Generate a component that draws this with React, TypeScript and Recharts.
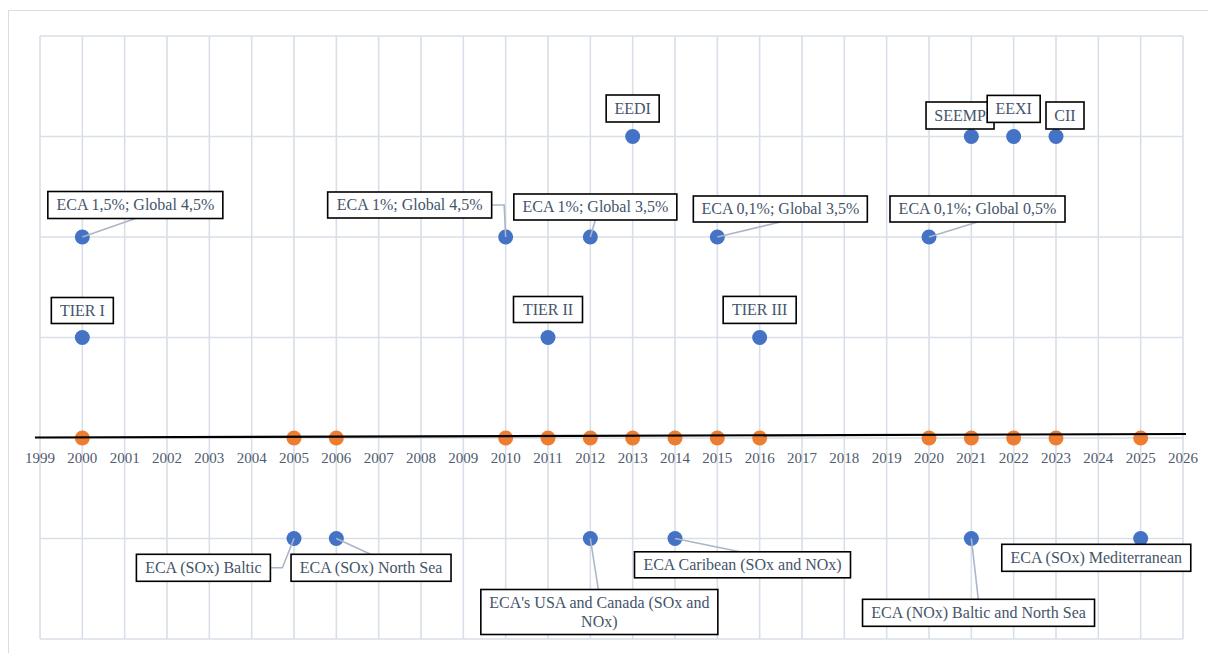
import { CartesianGrid, ReferenceLine, Scatter, ScatterChart, XAxis, YAxis } from "recharts";

const yearTicks = [
  1999, 2000, 2001, 2002, 2003, 2004, 2005, 2006, 2007, 2008, 2009, 2010, 2011, 2012,
  2013, 2014, 2015, 2016, 2017, 2018, 2019, 2020, 2021, 2022, 2023, 2024, 2025, 2026,
];
const levelTicks = [-2, -1, 0, 1, 2, 3, 4];

// orange dots sitting on the timeline
const timelineYears = [2000, 2005, 2006, 2010, 2011, 2012, 2013, 2014, 2015, 2016, 2020, 2021, 2022, 2023, 2025];

// blue milestones, above and below the timeline
const milestoneLabels = [
  "TIER I",
  "ECA 1,5%; Global 4,5%",
  "ECA (SOx) Baltic",
  "ECA (SOx) North Sea",
  "ECA 1%; Global 4,5%",
  "TIER II",
  "ECA 1%; Global 3,5%",
  "ECA's USA and Canada (SOx and NOx)",
  "EEDI",
  "ECA Caribean (SOx and NOx)",
  "ECA 0,1%; Global 3,5%",
  "TIER III",
  "ECA 0,1%; Global 0,5%",
  "SEEMP",
  "ECA (NOx) Baltic and North Sea",
  "EEXI",
  "CII",
  "ECA (SOx) Mediterranean",
];
const milestoneYears = [2000, 2000, 2005, 2006, 2010, 2011, 2012, 2012, 2013, 2014, 2015, 2016, 2020, 2021, 2021, 2022, 2023, 2025];
const milestoneLevels = [1, 2, -1, -1, 2, 1, 2, -1, 3, -1, 2, 1, 2, 3, -1, 3, 3, -1];

const timelineData = timelineYears.map((x) => ({ x, y: 0 }));
const milestoneData = milestoneLabels.map((label, i) => ({ x: milestoneYears[i], y: milestoneLevels[i], label }));

// label box placement relative to its dot (px)
type Box = { dx: number; dy: number; w: number; h: number; leader?: number[][]; lines?: string[] };
const boxes: Record<string, Box> = {
  "TIER I": { dx: 0, dy: -27, w: 62, h: 26 },
  "ECA 1,5%; Global 4,5%": { dx: 53, dy: -32, w: 175, h: 27, leader: [[53, -18.5]] },
  "ECA (SOx) Baltic": { dx: -90.6, dy: 29.3, w: 134, h: 27, leader: [[-11.6, 29.3], [-23.6, 29.3]] },
  "ECA (SOx) North Sea": { dx: 34.7, dy: 29.3, w: 160, h: 27, leader: [[34.7, 16]] },
  "ECA 1%; Global 4,5%": { dx: -96, dy: -32, w: 164, h: 26, leader: [[-1.5, -32], [-13.7, -32]] },
  "TIER II": { dx: 0, dy: -28, w: 69, h: 26 },
  "ECA 1%; Global 3,5%": { dx: 5, dy: -30, w: 163, h: 26, leader: [[5, -17]] },
  "ECA's USA and Canada (SOx and NOx)": {
    dx: 9,
    dy: 73.5,
    w: 237,
    h: 45,
    leader: [[8, 51]],
    lines: ["ECA's USA and Canada (SOx and", "NOx)"],
  },
  EEDI: { dx: 0, dy: -28, w: 53, h: 27 },
  "ECA Caribean (SOx and NOx)": { dx: 67.5, dy: 26.3, w: 216, h: 26, leader: [[65, 13.3]] },
  "ECA 0,1%; Global 3,5%": { dx: 63, dy: -28, w: 174, h: 26, leader: [[63, -15]] },
  "TIER III": { dx: 0, dy: -27.6, w: 73, h: 27 },
  "ECA 0,1%; Global 0,5%": { dx: 48.5, dy: -28, w: 175, h: 26, leader: [[48.5, -15]] },
  SEEMP: { dx: -11.3, dy: -21, w: 68, h: 27 },
  "ECA (NOx) Baltic and North Sea": { dx: 7.2, dy: 74.3, w: 232, h: 27, leader: [[7, 61]] },
  EEXI: { dx: 0, dy: -27.6, w: 53, h: 27 },
  CII: { dx: 9, dy: -21, w: 38, h: 27 },
  "ECA (SOx) Mediterranean": { dx: -44.4, dy: 19.3, w: 189, h: 27 },
};

const W = 1208;
const H = 653;
const M = { top: 36, right: 25, left: 40, bottom: 0 };
const XAXIS_H = 14;
const ZERO_Y = M.top + ((H - M.top - M.bottom - XAXIS_H) * 4) / 6;

const serifStyle = { fontFamily: "'Liberation Serif', 'Times New Roman', 'DejaVu Serif', serif" };
const textColor = "#44546A";

function YearTick(props: any) {
  const { x, payload } = props;
  return (
    <text x={x} y={ZERO_Y + 20} dy="0.35em" textAnchor="middle" style={serifStyle} fontSize={15} fill="#4F5B6E">
      {payload.value}
    </text>
  );
}

function OrangeDot(props: any) {
  return <circle cx={props.cx} cy={props.cy} r={7.5} fill="#ED7D31" />;
}

function Milestone(props: any) {
  const { cx, cy, payload } = props;
  const b = boxes[payload.label];
  const lines = b.lines ?? [payload.label];
  const bx = cx + b.dx;
  const by = cy + b.dy;
  const pts = b.leader ? [[0, 0], ...b.leader].map(([px, py]) => `${cx + px},${cy + py}`).join(" ") : null;
  return (
    <g>
      <circle cx={cx} cy={cy} r={7.5} fill="#4472C4" />
      {pts && <polyline points={pts} fill="none" stroke="#AAB6C8" strokeWidth={1.6} />}
      <rect x={bx - b.w / 2} y={by - b.h / 2} width={b.w} height={b.h} fill="#fff" stroke="#000" strokeWidth={1.6} />
      {lines.map((t, i) => (
        <text
          key={i}
          x={bx}
          y={by + (i - (lines.length - 1) / 2) * 18.7}
          dy="0.33em"
          textAnchor="middle"
          style={serifStyle}
          fontSize={16}
          fill={textColor}
        >
          {t}
        </text>
      ))}
    </g>
  );
}

export default function App() {
  return (
    <div
      style={{
        position: "fixed",
        left: 0,
        top: 0,
        width: W,
        height: H,
        overflow: "hidden",
        background: "#fff",
        fontFamily: serifStyle.fontFamily,
      }}
    >
      <div
        style={{
          position: "absolute",
          left: 8,
          top: 10,
          width: 1240,
          height: 700,
          border: "1px solid #D9DDE4",
        }}
      />
      <div style={{ position: "absolute", left: 0, top: 0 }}>
        <ScatterChart width={W} height={H} margin={M}>
          <CartesianGrid stroke="#D9DFE8" strokeWidth={1.6} />
          <XAxis
            type="number"
            dataKey="x"
            domain={[1999, 2026]}
            ticks={yearTicks}
            interval={0}
            height={XAXIS_H}
            axisLine={false}
            tickLine={false}
            tick={<YearTick />}
          />
          <YAxis type="number" dataKey="y" domain={[-2, 4]} ticks={levelTicks} hide />
          <Scatter data={timelineData} shape={<OrangeDot />} isAnimationActive={false} />
          <ReferenceLine
            segment={[
              { x: 1998.88, y: 0.005 },
              { x: 2026.07, y: 0.04 },
            ]}
            ifOverflow="visible"
            stroke="#000"
            strokeWidth={2.2}
            zIndex={700}
          />
          <Scatter data={milestoneData} shape={<Milestone />} isAnimationActive={false} />
        </ScatterChart>
      </div>
    </div>
  );
}
